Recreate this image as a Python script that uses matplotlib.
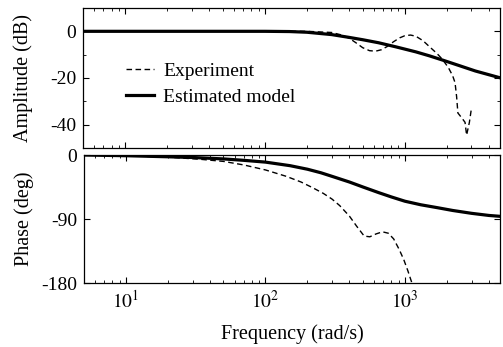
import matplotlib
matplotlib.use("Agg")
import matplotlib.pyplot as plt
from matplotlib.ticker import MultipleLocator, LogLocator, NullFormatter
import numpy as np

plt.rcParams['font.family'] = ['Liberation Serif', 'DejaVu Serif']
plt.rcParams['mathtext.fontset'] = 'stix'
plt.rcParams['axes.unicode_minus'] = False

# amplitude, estimated model (rad/s, dB)
w_model = [5, 100, 150, 200, 300, 400, 500, 650, 870, 1200, 1500, 1860, 2400, 3200, 4000, 5000]
amp_model = [0, 0, -0.1, -0.4, -1.4, -2.6, -3.6, -4.9, -6.7, -8.8, -10.5, -12.3, -14.5, -17.0, -18.6, -20.2]

# amplitude, experiment
w_exp = [5, 100, 200, 300, 350, 400, 450, 500, 560, 620, 680, 750, 830, 920, 1000, 1100, 1200,
         1350, 1510, 1700, 1860, 2050, 2200, 2290, 2350, 2400, 2550, 2700, 2770, 2900, 3000]
amp_exp = [0, 0, 0, -0.5, -1.5, -2.9, -5.0, -7.0, -8.3, -8.5, -7.9, -6.5, -4.5, -2.8, -1.9, -1.6, -2.1,
           -4.0, -6.7, -9.5, -12.0, -15.5, -19.0, -22.0, -28.0, -35.0, -37.0, -39.0, -44.5, -39.0, -33.0]

# phase, estimated model (deg)
w_ph_model = [5, 10, 20, 30, 50, 70, 100, 150, 200, 250, 300, 400, 500, 650, 800, 1000, 1300,
              1700, 2200, 3000, 4000, 5000]
ph_model = [0, -1, -2.5, -3.5, -5.5, -7.5, -10, -15, -20, -25, -30, -38, -45, -53, -59, -65, -70,
            -74, -78, -82, -85, -86.5]

# phase, experiment
w_ph_exp = [5, 10, 20, 34, 50, 70, 100, 141, 180, 218, 260, 300, 340, 400, 450, 510, 560, 620,
            690, 760, 830, 910, 980, 1050, 1100, 1150]
ph_exp = [0, -1, -3, -6, -9, -14, -21, -30, -38, -46, -54, -62, -71, -86, -100, -114, -115, -111,
          -108, -110, -118, -133, -147, -163, -175, -186]

freq_ticks = [10, 100, 1000]
freq_labels = [r'$10^1$', r'$10^2$', r'$10^3$']

fig = plt.figure(figsize=(5.03, 3.47), dpi=100)
ax1 = fig.add_axes([0.165, 0.5735, 0.829, 0.4035])
ax2 = fig.add_axes([0.167, 0.1844, 0.827, 0.3689])

l_exp, = ax1.semilogx(w_exp, amp_exp, 'k--', lw=1.0, dashes=(4, 2.5))
l_mod, = ax1.semilogx(w_model, amp_model, 'k-', lw=2.3)
ax1.set_xlim(5, 4800)
ax1.set_ylim(-50, 10)
ax1.yaxis.set_major_locator(MultipleLocator(20))
ax1.yaxis.set_minor_locator(MultipleLocator(10))
ax1.set_xticks(freq_ticks)
ax1.set_xticklabels([])
ax1.set_ylabel('Amplitude (dB)', fontsize=14.5)
ax1.legend((l_exp, l_mod), ('Experiment', 'Estimated model'), loc='upper left',
           bbox_to_anchor=(0.08, 0.68), frameon=False, fontsize=14,
           handlelength=1.45, handletextpad=0.45, labelspacing=0.42, borderpad=0)

ax2.semilogx(w_ph_exp, ph_exp, 'k--', lw=1.0, dashes=(4, 2.5))
ax2.semilogx(w_ph_model, ph_model, 'k-', lw=2.3)
ax2.set_xlim(5, 4800)
ax2.set_ylim(-180, 0)
ax2.set_yticks([0, -90, -180])
ax2.set_xticks(freq_ticks)
ax2.set_xticklabels(freq_labels)
ax2.set_ylabel('Phase (deg)', fontsize=14.5)
ax2.set_xlabel('Frequency (rad/s)', fontsize=14.5, labelpad=9)

for ax in (ax1, ax2):
    ax.xaxis.set_minor_locator(LogLocator(base=10, subs=np.arange(2, 10)))
    ax.xaxis.set_minor_formatter(NullFormatter())
    ax.tick_params(which='both', direction='in', top=True, right=True, labelsize=14)
    ax.tick_params(which='major', length=4, width=0.8, pad=5)
    ax.tick_params(which='minor', length=2, width=0.6)
    ax.yaxis.set_label_coords(-0.12, 0.5)
    for s in ax.spines.values():
        s.set_linewidth(0.9)

fig.savefig('out.png', dpi=100)
